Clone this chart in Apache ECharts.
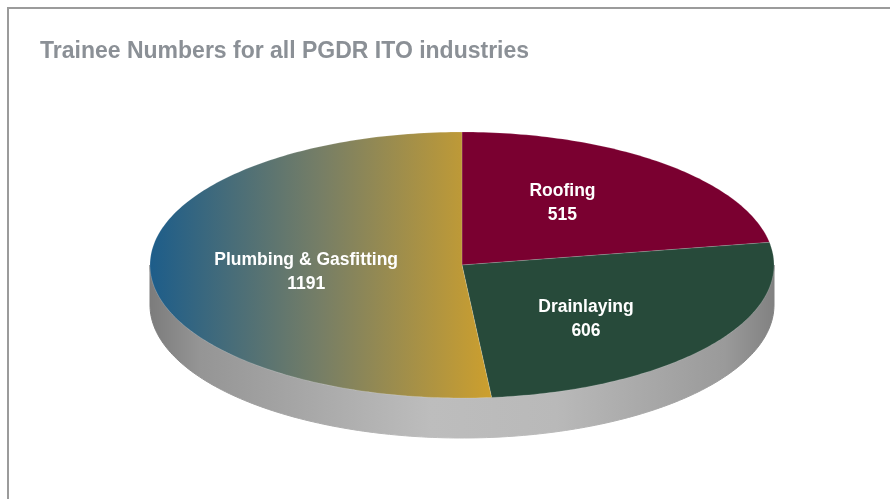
<!DOCTYPE html>
<html lang="en">
<head>
    <meta charset="UTF-8">
    <script src="https://cdn.jsdelivr.net/npm/echarts@6/dist/echarts.min.js"></script>
    <title>Trainee Numbers</title>
    <style>
        html, body { margin: 0; padding: 0; background: #fff; }
    </style>
</head>
<body>
<div id="main" style="width: 890px;height: 499px"></div>
<script type="text/javascript">
    // data
    var categories = ['Roofing', 'Drainlaying', 'Plumbing & Gasfitting'];
    var values = [515, 606, 1191];

    // ellipse geometry for the flattened pie
    var cx = 462, cy = 265, rx = 312, ry = 133, depth = 40;

    var total = values.reduce(function (a, b) { return a + b; }, 0);
    var starts = [], ends = [];
    var acc = 0;
    values.forEach(function (v) {
        starts.push(acc / total * 360);
        acc += v;
        ends.push(acc / total * 360);
    });

    // parametric angle, clockwise from 12 o'clock
    function pt(deg, dy) {
        var t = deg * Math.PI / 180;
        return [cx + rx * Math.sin(t), cy - ry * Math.cos(t) + (dy || 0)];
    }
    function arc(a0, a1, dy) {
        var pts = [];
        var n = Math.max(2, Math.ceil((a1 - a0) / 1));
        for (var i = 0; i <= n; i++) pts.push(pt(a0 + (a1 - a0) * i / n, dy));
        return pts;
    }

    var fills = [
        '#7a0030',
        '#274a3a',
        {type: 'linear', x: 150, y: 0, x2: 490, y2: 0, global: true,
            colorStops: [{offset: 0, color: '#1d5d8a'}, {offset: 0.5, color: '#767e66'}, {offset: 1, color: '#cc9f2e'}]}
    ];
    var sideFill = {type: 'linear', x: 150, y: 0, x2: 775, y2: 0, global: true,
        colorStops: [
            {offset: 0, color: '#7c7c7c'},
            {offset: 0.08, color: '#959595'},
            {offset: 0.45, color: '#bdbdbd'},
            {offset: 0.65, color: '#b9b9b9'},
            {offset: 0.92, color: '#9a9a9a'},
            {offset: 1, color: '#818181'}
        ]};

    var myChart = echarts.init(document.getElementById('main'));

    myChart.setOption({
        animation: false,
        title: {
            text: 'Trainee Numbers for all PGDR ITO industries',
            left: 35, top: 35,
            textStyle: {color: '#8b9096', fontSize: 23, fontWeight: 'bold', fontFamily: 'Liberation Sans'}
        },
        graphic: [{
            type: 'polyline',
            shape: {points: [[8, 520], [8, 8], [900, 8]]},
            style: {stroke: '#9b9b9b', lineWidth: 2, fill: null},
            z: 1
        }],
        series: [{
            type: 'custom',
            coordinateSystem: 'none',
            data: values.map(function (v, i) { return {name: categories[i], value: v}; }),
            renderItem: function (params, api) {
                var i = params.dataIndex;
                var a0 = starts[i], a1 = ends[i];
                var children = [];
                var s = Math.max(a0, 90), e = Math.min(a1, 270);
                if (e > s) {
                    var top = arc(s, e, 0);
                    var bottom = arc(s, e, depth).reverse();
                    children.push({
                        type: 'polygon',
                        shape: {points: top.concat(bottom)},
                        style: {fill: sideFill, stroke: sideFill, lineWidth: 1},
                        z2: 1
                    });
                }
                children.push({
                    type: 'polygon',
                    shape: {points: [[cx, cy]].concat(arc(a0, a1, 0))},
                    style: {fill: fills[i], stroke: 'rgba(255,255,255,0.25)', lineWidth: 0.6},
                    z2: 2
                });
                var mid = (a0 + a1) / 2 * Math.PI / 180;
                children.push({
                    type: 'text',
                    x: cx + rx * 0.5 * Math.sin(mid),
                    y: cy + 3 - ry * 0.64 * Math.cos(mid),
                    style: {
                        text: categories[i] + '\n' + api.value(0),
                        fill: '#ffffff',
                        font: 'bold 17.5px "Liberation Sans"',
                        align: 'center',
                        verticalAlign: 'middle',
                        lineHeight: 24
                    },
                    z2: 3
                });
                return {type: 'group', children: children};
            }
        }]
    });
</script>
</body>
</html>
